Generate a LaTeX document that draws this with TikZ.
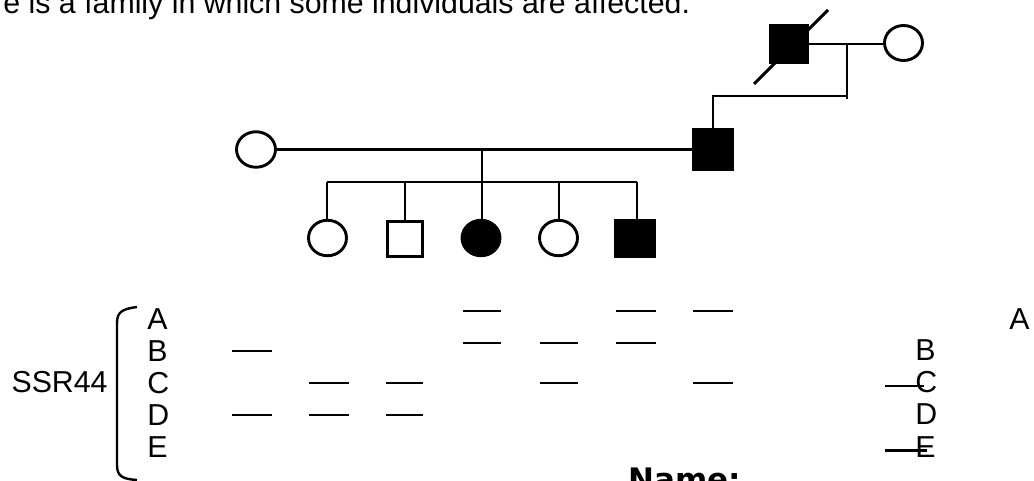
\documentclass[tikz,border=0pt]{standalone}
\usepackage{fontspec}
\setmainfont{Liberation Sans}
\newfontfamily\namefont{DejaVu Sans}
\usetikzlibrary{shapes.geometric}
\begin{document}
\begin{tikzpicture}[x=1pt,y=-1pt,line width=2.9pt,
  lab/.style={inner sep=0pt,anchor=base west,font=\fontsize{30.3}{33}\selectfont},
  fem/.style={draw,ellipse,minimum width=38pt,minimum height=35.5pt,inner sep=0pt},
  male/.style={draw,rectangle,minimum size=37pt,inner sep=0pt},
  aff/.style={fill=black},
  band/.style={line width=2.9pt}]
\clip (0,0) rectangle (1034,481);
\fill[white] (0,0) rectangle (1034,481);

% heading
\node[lab] (head) at (2,14) {e is a family in which some individuals are affected.};

% grandparents
\node[male,aff] (gf) at (789,44) {};
\node[fem,minimum height=35pt] (gm) at (903.5,43) {};
\coordinate (sa) at (754,84);
\coordinate (sb) at (828,10);
\draw (sa) -- (sb);
\draw (gf.east) -- (gm.west |- gf.east);
\coordinate (gdrop) at (847,44);
\coordinate (gend) at (847,99);
\coordinate (gsib) at (847,96);
\draw (gdrop) -- (gend);

% parents
\node[male,aff,minimum width=39pt,minimum height=39.5pt] (fa) at (713,149.5) {};
\node[fem,minimum width=39pt] (mo) at (256,149.5) {};
\draw (gsib) -| (fa.north);
\draw (mo.east) -- (fa.west);

% children
\node[fem] (c1) at (327.5,238) {};
\node[male,minimum size=35pt] (c2) at (405,239) {};
\node[fem,aff] (c3) at (481,238) {};
\node[fem] (c4) at (558.5,238) {};
\node[male,aff,minimum width=39pt,minimum height=36pt] (c5) at (635,238.5) {};
\coordinate (pdrop) at (482,149);
\coordinate (psib) at (482,182);
\coordinate (sl) at (327,182);
\coordinate (sr) at (637,182);
\draw (pdrop) -- (psib);
\draw (sl) -- (sr);
\draw (sl) -- (sl |- c1.north);
\draw (405,182) -- (c2.north);
\draw (psib) -- (psib |- c3.north);
\draw (559,182) -- (559,220);
\draw (sr) -- (sr |- c5.north);

% marker labels
\node[lab,anchor=base east] (ssr) at (109,392) {SSR44};
\draw[line width=2.4pt] (137,307) .. controls (122,309) and (117,312) .. (117,323)
  -- (117,465) .. controls (117,476) and (122,479) .. (137,480);
\node[lab] (la) at (146,330) {A};
\node[lab] (lb) at (146,361) {B};
\node[lab] (lc) at (146,393) {C};
\node[lab] (ld) at (146,425) {D};
\node[lab] (le) at (146,457) {E};

% bands
\draw[band] (232,351) -- (272,351);
\draw[band] (232,415) -- (272,415);
\draw[band] (309,383) -- (349,383);
\draw[band] (309,415) -- (349,415);
\draw[band] (386,383) -- (423,383);
\draw[band] (386,415) -- (423,415);
\draw[band] (463,311) -- (501,311);
\draw[band] (463,343) -- (501,343);
\draw[band] (540,343) -- (578,343);
\draw[band] (540,383) -- (578,383);
\draw[band] (616,311) -- (656,311);
\draw[band] (616,343) -- (656,343);
\draw[band] (693,311) -- (733,311);
\draw[band] (693,383) -- (733,383);

% right-hand labels
\node[lab] (ra) at (1008,329) {A};
\node[lab] (rb) at (914,360) {B};
\node[lab] (rc) at (914,392) {C};
\node[lab] (rd) at (914,424) {D};
\node[lab] (re) at (914,457) {E};
\draw[band] (885,386) -- (924,386);
\draw[band] (885,450.5) -- (927,450.5);

% name
\node[inner sep=0pt,anchor=base west,font=\namefont\bfseries\fontsize{31}{34}\selectfont] (name) at (627,490) {Name:};
\end{tikzpicture}
\end{document}
